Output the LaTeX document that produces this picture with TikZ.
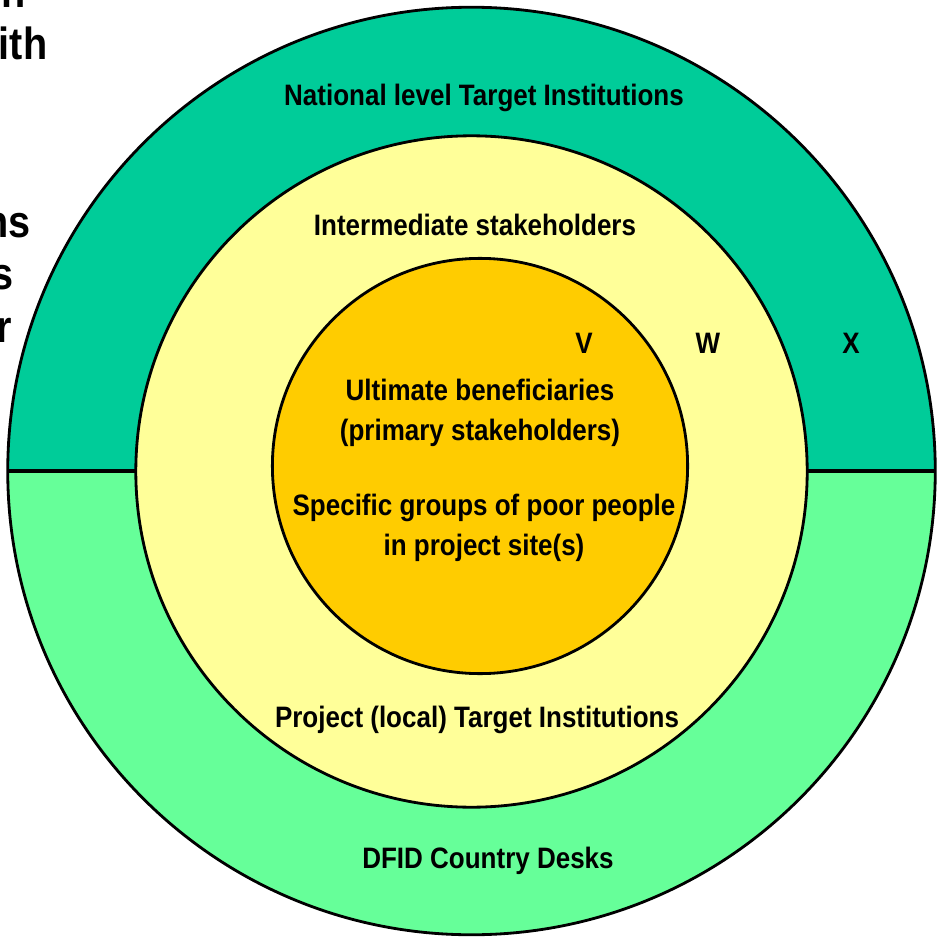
\documentclass[tikz,border=0pt]{standalone}
\usepackage{fontspec}
\setmainfont[FakeStretch=0.88]{Liberation Sans}
\definecolor{natgreen}{HTML}{00CC99}
\definecolor{deskgreen}{HTML}{66FF99}
\definecolor{midyellow}{HTML}{FFFF99}
\definecolor{coreorange}{HTML}{FFCC00}
\begin{document}
\begin{tikzpicture}[x=0.01cm,y=-0.01cm,
  ring/.style={circle,draw=black,line width=0.8pt,inner sep=0,outer sep=0},
  lbl/.style={font=\bfseries\fontsize{8.4}{11.4}\selectfont,align=center,inner sep=0},
  cut/.style={font=\bfseries\fontsize{12.8}{15}\selectfont,anchor=base east,inner sep=0}]

\useasboundingbox (0,0) rectangle (939,940);
\clip (0,0) rectangle (939,940);

\node[cut] (f1) at (26,8) {n};
\node[cut] (f2) at (48,60) {ith};
\node[cut] (f3) at (31,238) {ns};
\node[cut] (f4) at (14,290) {s};
\node[cut] (f5) at (13,342) {r};

\node[circle,fill=deskgreen,minimum size=9.27cm,inner sep=0] (outer) at (471.5,471) {};
\fill[natgreen] (outer.west) arc[start angle=180,end angle=0,radius=4.635cm] -- cycle;
\draw[line width=1.1pt] (outer.west) -- (outer.east);
\node[ring,minimum size=9.27cm] (rim) at (outer.center) {};

\node[ring,fill=midyellow,minimum size=6.71cm] (mid) at (471.5,471.5) {};
\node[ring,fill=coreorange,minimum size=4.15cm] (core) at (480,466) {};

\node[lbl] (nat) at (484,98) {National level Target Institutions};
\node[lbl] (inter) at (475,225) {Intermediate stakeholders};
\node[lbl] (v) at (584,343) {V};
\node[lbl] (w) at (708,343) {W};
\node[lbl] (x) at (851,343) {X};
\node[lbl] (ult) at (480,413) {Ultimate beneficiaries\\(primary stakeholders)};
\node[lbl] (poor) at (484,528) {Specific groups of poor people\\in project site(s)};
\node[lbl] (proj) at (477,720) {Project (local) Target Institutions};
\node[lbl] (dfid) at (488,861) {DFID Country Desks};

\end{tikzpicture}
\end{document}
